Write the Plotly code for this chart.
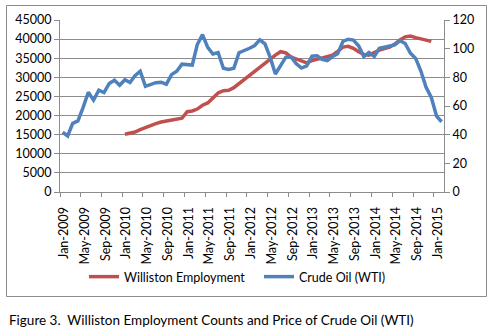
import pandas as pd
import plotly.graph_objects as go

# Monthly WTI crude oil price (USD/bbl), Jan-2009 .. Feb-2015
oil_price = [
    41.7, 39.1, 47.9, 49.6, 59.0, 69.6, 64.1, 71.0, 69.4, 75.7, 78.0, 74.5,
    78.3, 76.4, 81.2, 84.3, 73.7, 75.3, 76.3, 76.6, 75.2, 81.9, 84.3, 89.2,
    89.2, 88.6, 102.9, 109.8, 100.9, 96.3, 97.3, 86.3, 85.5, 86.3, 97.2, 98.6,
    100.3, 102.2, 106.2, 103.3, 94.0, 82.3, 88.0, 94.1, 94.3, 89.5, 86.5, 88.0,
    94.8, 95.0, 92.6, 91.7, 94.5, 96.5, 105.0, 106.6, 106.0, 102.0, 94.5, 97.3,
    94.5, 100.3, 101.0, 101.9, 102.6, 105.6, 103.6, 96.8, 93.2, 84.4, 73.0, 66.0,
    53.0, 49.0,
]
oil_months = pd.date_range("2009-01-01", periods=len(oil_price), freq="MS")

# Williston employment counts, Jan-2010 .. Dec-2014
employment = [
    15100, 15300, 15700, 16300, 16900, 17400, 17900, 18300, 18600, 18800, 19000, 19300,
    21000, 21200, 21700, 22700, 23300, 24600, 25900, 26500, 26600, 27300, 28400, 29500,
    30500, 31500, 32700, 33700, 34800, 35800, 36700, 36400, 35300, 34700, 34300, 33800,
    34400, 34700, 35000, 35400, 35800, 36800, 37900, 38100, 37600, 36700, 36000, 35800,
    36600, 37100, 37500, 37900, 38700, 39800, 40600, 40800, 40400, 40000, 39700, 39400,
]
emp_months = pd.date_range("2010-01-01", periods=len(employment), freq="MS")

RED = "#C0504D"
BLUE = "#4F81BD"
GRID = "#8C8C8C"
FONT = "Lato"

# plot-area margins (px) inside the 490x335 page
L, R, T, B = 60, 46, 20, 143
W, H = 490, 335
PW, PH = W - L - R, H - T - B


def px_x(px):
    return (px - L) / PW


def px_y(py):
    return (H - B - py) / PH


fig = go.Figure()
fig.add_trace(go.Scatter(
    x=emp_months, y=employment, name="Williston Employment",
    mode="lines", line=dict(color=RED, width=3.5),
    xperiod="M1", xperiodalignment="middle", yaxis="y",
))
fig.add_trace(go.Scatter(
    x=oil_months, y=oil_price, name="Crude Oil (WTI)",
    mode="lines", line=dict(color=BLUE, width=3.5),
    xperiod="M1", xperiodalignment="middle", yaxis="y2",
))

fig.update_layout(
    width=W, height=H,
    margin=dict(l=L, r=R, t=T, b=B, pad=0),
    paper_bgcolor="white", plot_bgcolor="white",
    font=dict(family=FONT, size=12, color="#000000"),
    showlegend=True,
    legend=dict(
        orientation="h", x=px_x(259), xanchor="center",
        y=px_y(277), yanchor="middle",
        font=dict(size=12.5), itemwidth=30, tracegroupgap=0,
        entrywidth=130, entrywidthmode="pixels",
        bgcolor="rgba(0,0,0,0)",
    ),
    xaxis=dict(
        type="date", range=["2009-01-01", "2015-03-01"],
        tick0="2009-01-01", dtick="M4", tickformat="%b-%Y",
        tickangle=-90, ticks="outside", ticklen=4, tickcolor=GRID,
        showline=True, linecolor=GRID, linewidth=1,
        showgrid=False, zeroline=False,
        ticklabelshift=4, ticklabelstandoff=5,
        tickfont=dict(size=12.5),
    ),
    yaxis=dict(
        range=[0, 45000], dtick=5000, tickformat="d",
        ticks="outside", ticklen=5, tickcolor=GRID,
        showline=True, linecolor=GRID, linewidth=1,
        showgrid=True, gridcolor=GRID, gridwidth=1, zeroline=False,
        tickfont=dict(size=12.5),
    ),
    yaxis2=dict(
        range=[0, 120], dtick=20, overlaying="y", side="right",
        ticks="outside", ticklen=5, tickcolor=GRID,
        showline=True, linecolor=GRID, linewidth=1,
        showgrid=False, zeroline=False,
        tickfont=dict(size=12.5),
    ),
    shapes=[dict(
        type="rect", xref="paper", yref="paper",
        x0=px_x(6.5), x1=px_x(486.5), y0=px_y(296.5), y1=px_y(5.5),
        line=dict(color=GRID, width=1), fillcolor="rgba(0,0,0,0)", layer="below",
    )],
    annotations=[dict(
        text="Figure 3.  Williston Employment Counts and Price of Crude Oil (WTI)",
        xref="paper", yref="paper", x=px_x(7), y=px_y(320),
        xanchor="left", yanchor="middle", showarrow=False,
        font=dict(family=FONT, size=13.5, color="#000000"),
    )],
)

fig.write_html("out.html")
